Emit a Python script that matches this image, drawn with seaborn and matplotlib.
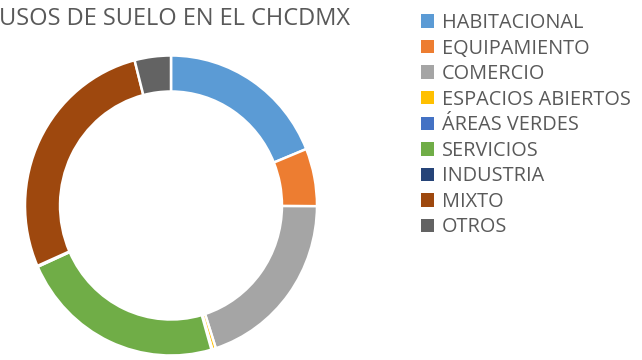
import matplotlib
matplotlib.use("Agg")
import matplotlib.pyplot as plt
from matplotlib.patches import Patch
import seaborn as sns

categorias = ["HABITACIONAL", "EQUIPAMIENTO", "COMERCIO", "ESPACIOS ABIERTOS",
              "ÁREAS VERDES", "SERVICIOS", "INDUSTRIA", "MIXTO", "OTROS"]
porcentajes = [18.8, 6.2, 19.9, 0.4, 0.1, 22.7, 0.1, 27.5, 4.0]
colores = ["#5B9BD5", "#ED7D31", "#A5A5A5", "#FFC000", "#4472C4",
           "#70AD47", "#264478", "#9E480E", "#636363"]
titulo = "USOS DE SUELO EN EL CHCDMX"

sns.set_theme(style="white")
plt.rcParams["font.family"] = ["Open Sans", "DejaVu Sans"]

W, H = 642, 360
fig = plt.figure(figsize=(W / 100, H / 100), dpi=100)
fig.patch.set_facecolor("white")

# donut slightly taller than wide
cx, cy, rx, ry = 171, 205.5, 146, 150
ax = fig.add_axes([(cx - rx) / W, (H - cy - ry) / H, 2 * rx / W, 2 * ry / H])
ax.pie(porcentajes, colors=colores, startangle=90, counterclock=False,
       radius=1.0, wedgeprops=dict(width=0.24, edgecolor="white", linewidth=1.8))
ax.set_xlim(-1, 1)
ax.set_ylim(-1, 1)
ax.set_aspect("auto")
ax.axis("off")

fig.text(175 / W, 1 - 19 / H, titulo, ha="center", va="center",
         fontsize=17, color="#595959")

handles = [Patch(facecolor=c, edgecolor="none") for c in colores]
fig.legend(handles, categorias, loc="upper left",
           bbox_to_anchor=(421 / W, 1 - 13 / H), frameon=False,
           fontsize=14.3, labelcolor="#595959", handlelength=0.66,
           handleheight=0.66, handletextpad=0.4, labelspacing=0.28,
           borderaxespad=0, borderpad=0)

fig.savefig("out.png", dpi=100, facecolor="white")
